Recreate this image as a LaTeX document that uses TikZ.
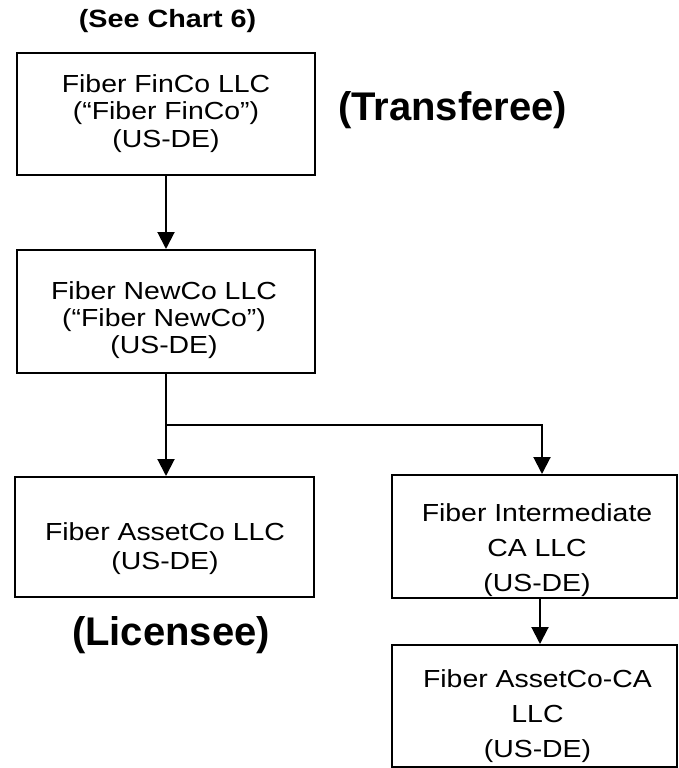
\documentclass[tikz,border=0pt]{standalone}
\usepackage{fontspec}
\setmainfont{Liberation Sans}
\newfontfamily\widesans[FakeStretch=1.15]{Liberation Sans}
\usetikzlibrary{arrows.meta,calc}
\begin{document}
\begin{tikzpicture}[x=1pt,y=-1pt,
  entity/.style={draw=black, line width=2pt, inner sep=0pt, rectangle},
  boxtext/.style={align=center, inner sep=0pt, font=\widesans\fontsize{24.7}{27.3}\selectfont},
  boxtextwide/.style={align=center, inner sep=0pt, font=\widesans\fontsize{24.7}{35}\selectfont},
  link/.style={line width=2pt, -{Triangle[width=17pt,length=17pt]}},
  smallhead/.style={anchor=base, inner sep=0pt, font=\widesans\bfseries\fontsize{25}{30}\selectfont},
  bighead/.style={anchor=base, inner sep=0pt, font=\bfseries\fontsize{40}{48}\selectfont}
]
\useasboundingbox (0,0) rectangle (678,768);

% boxes
\node[entity, minimum width=298pt, minimum height=122pt] (b1) at (166,114) {};
\node[entity, minimum width=298pt, minimum height=123pt] (b2) at (166,311.5) {};
\node[entity, minimum width=299pt, minimum height=120pt] (b3) at (164.5,537) {};
\node[entity, minimum width=285pt, minimum height=123pt] (b4) at (534.5,536.5) {};
\node[entity, minimum width=285pt, minimum height=122pt] (b5) at (534.5,706) {};

% box texts
\node[boxtext] (t1) at (166,113.6) {Fiber FinCo LLC\\(“Fiber FinCo”)\\(US-DE)};
\node[boxtext] (t2) at (164,320) {Fiber NewCo LLC\\(“Fiber NewCo”)\\(US-DE)};
\node[boxtext, font=\widesans\fontsize{24.7}{29}\selectfont] (t3) at (165,549) {Fiber AssetCo LLC\\(US-DE)};
\node[boxtextwide] (t4) at (537,550) {Fiber Intermediate\\CA LLC\\(US-DE)};
\node[boxtextwide] (t5) at (537.5,716) {Fiber AssetCo-CA\\LLC\\(US-DE)};

% labels
\node[smallhead] (see) at (167.5,28) {(See Chart 6)};
\node[bighead] (transferee) at (452.5,120) {(Transferee)};
\node[bighead] (licensee) at (171,645) {(Licensee)};

% connectors
\draw[link] (b1.south) -- (b2.north);
\draw[link] (b2.south) -- (b2.south |- b3.north);
\coordinate (split) at ($(b2.south)+(0,51)$);
\coordinate (b4in) at ($(b4.north)+(7.5,0)$);
\draw[link] (split) -| (b4in);
\draw[link] ($(b4.south)+(5.5,0)$) -- ($(b5.north)+(5.5,0)$);
\end{tikzpicture}
\end{document}
